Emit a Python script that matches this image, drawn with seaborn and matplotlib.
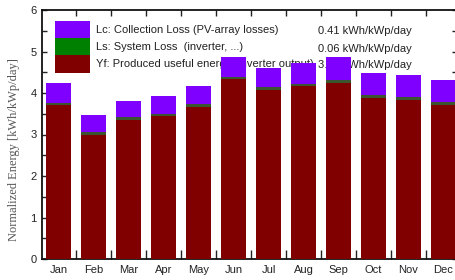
import numpy as np
import pandas as pd
import matplotlib
matplotlib.use("Agg")
import matplotlib.pyplot as plt
from matplotlib.patches import Patch
import seaborn as sns

months = ["Jan", "Feb", "Mar", "Apr", "May", "Jun", "Jul", "Aug", "Sep", "Oct", "Nov", "Dec"]
yf = [3.70, 3.00, 3.35, 3.44, 3.67, 4.33, 4.08, 4.16, 4.25, 3.89, 3.84, 3.72]
ls = [0.06, 0.06, 0.06, 0.06, 0.06, 0.06, 0.06, 0.06, 0.06, 0.06, 0.06, 0.06]
lc = [0.47, 0.41, 0.40, 0.43, 0.44, 0.48, 0.46, 0.50, 0.56, 0.53, 0.53, 0.53]

legend_labels = ["Lc: Collection Loss (PV-array losses)",
                 "Ls: System Loss  (inverter, ...)",
                 "Yf: Produced useful energy (inverter output)"]
legend_values = ["0.41 kWh/kWp/day", "0.06 kWh/kWp/day", "3.79 kWh/kWp/day"]

c_lc = "#8000ff"
c_ls_bar = "#3a5530"
c_ls = "#008000"
c_yf = "#800000"

df = pd.DataFrame({"month": months, "yf": yf, "ls": ls, "lc": lc})
df["yf_ls"] = df["yf"] + df["ls"]
df["total"] = df["yf_ls"] + df["lc"]

sns.set_theme(style="ticks")
plt.rcParams["font.family"] = ["Liberation Sans", "DejaVu Sans"]

W, H = 455, 280
fig = plt.figure(figsize=(W / 100, H / 100), dpi=100)
ax = fig.add_axes([42 / W, 21 / H, 415 / W, 249 / H])

bw = 0.74
sns.barplot(data=df, x="month", y="total", color=c_lc, saturation=1, width=bw,
            linewidth=0, zorder=3, ax=ax)
sns.barplot(data=df, x="month", y="yf_ls", color=c_ls_bar, saturation=1, width=bw,
            linewidth=0, zorder=3, ax=ax)
sns.barplot(data=df, x="month", y="yf", color=c_yf, saturation=1, width=bw,
            linewidth=0, zorder=3, ax=ax)

ax.set_xlim(-16.5 / 35, (457 - 58.5) / 35)
ax.set_ylim(0, 6)

# ticks
ax.set_xticks(np.arange(12))
ax.set_xticklabels(months, fontsize=8, color="#222222")
ax.set_xticks(np.arange(11) + 0.5, minor=True)
ax.tick_params(axis="x", which="major", length=0, pad=4)
ax.tick_params(axis="x", which="minor", direction="in", length=6.5, width=1,
               top=True, bottom=True, color="#222222")
ax.set_yticks(np.arange(0, 7, 1))
ax.set_yticks(np.arange(0.5, 6, 1), minor=True)
ax.tick_params(axis="y", which="both", direction="in", length=3.8, width=1,
               left=True, right=True, labelsize=8, pad=4, colors="#222222")
ax.tick_params(axis="y", labelcolor="#222222")
for t in ax.xaxis.get_minor_ticks():
    t.tick2line.set_markersize(4.3)

for s in ax.spines.values():
    s.set_linewidth(1.3)
    s.set_color("#111111")
    s.set_visible(True)

ax.set_xlabel("")
ax.set_ylabel("Normalized Energy [kWh/kWp/day]", family=["Liberation Serif", "DejaVu Serif"],
              fontsize=9, color="#555555")
ax.yaxis.set_label_coords(-0.052, 0.44)

handles = [Patch(facecolor=c_lc, linewidth=0),
           Patch(facecolor=c_ls, linewidth=0),
           Patch(facecolor=c_yf, linewidth=0)]
leg = ax.legend(handles, legend_labels, loc="upper left",
                bbox_to_anchor=(13 / 415, (259 - 21) / 249), frameon=False,
                borderaxespad=0, borderpad=0, handlelength=3.15, handleheight=2.0,
                labelspacing=0, handletextpad=0.55, fontsize=8)
for t in leg.get_texts():
    t.set_color("#222222")
leg.set_zorder(1)

for i, v in enumerate(legend_values):
    ypx = [31.5, 48.5, 65.5][i]
    ax.text((318 - 42) / 415, (259 - ypx) / 249, v, transform=ax.transAxes,
            fontsize=8, color="#222222", va="center", ha="left", zorder=1)

fig.savefig("out.png", dpi=100)
